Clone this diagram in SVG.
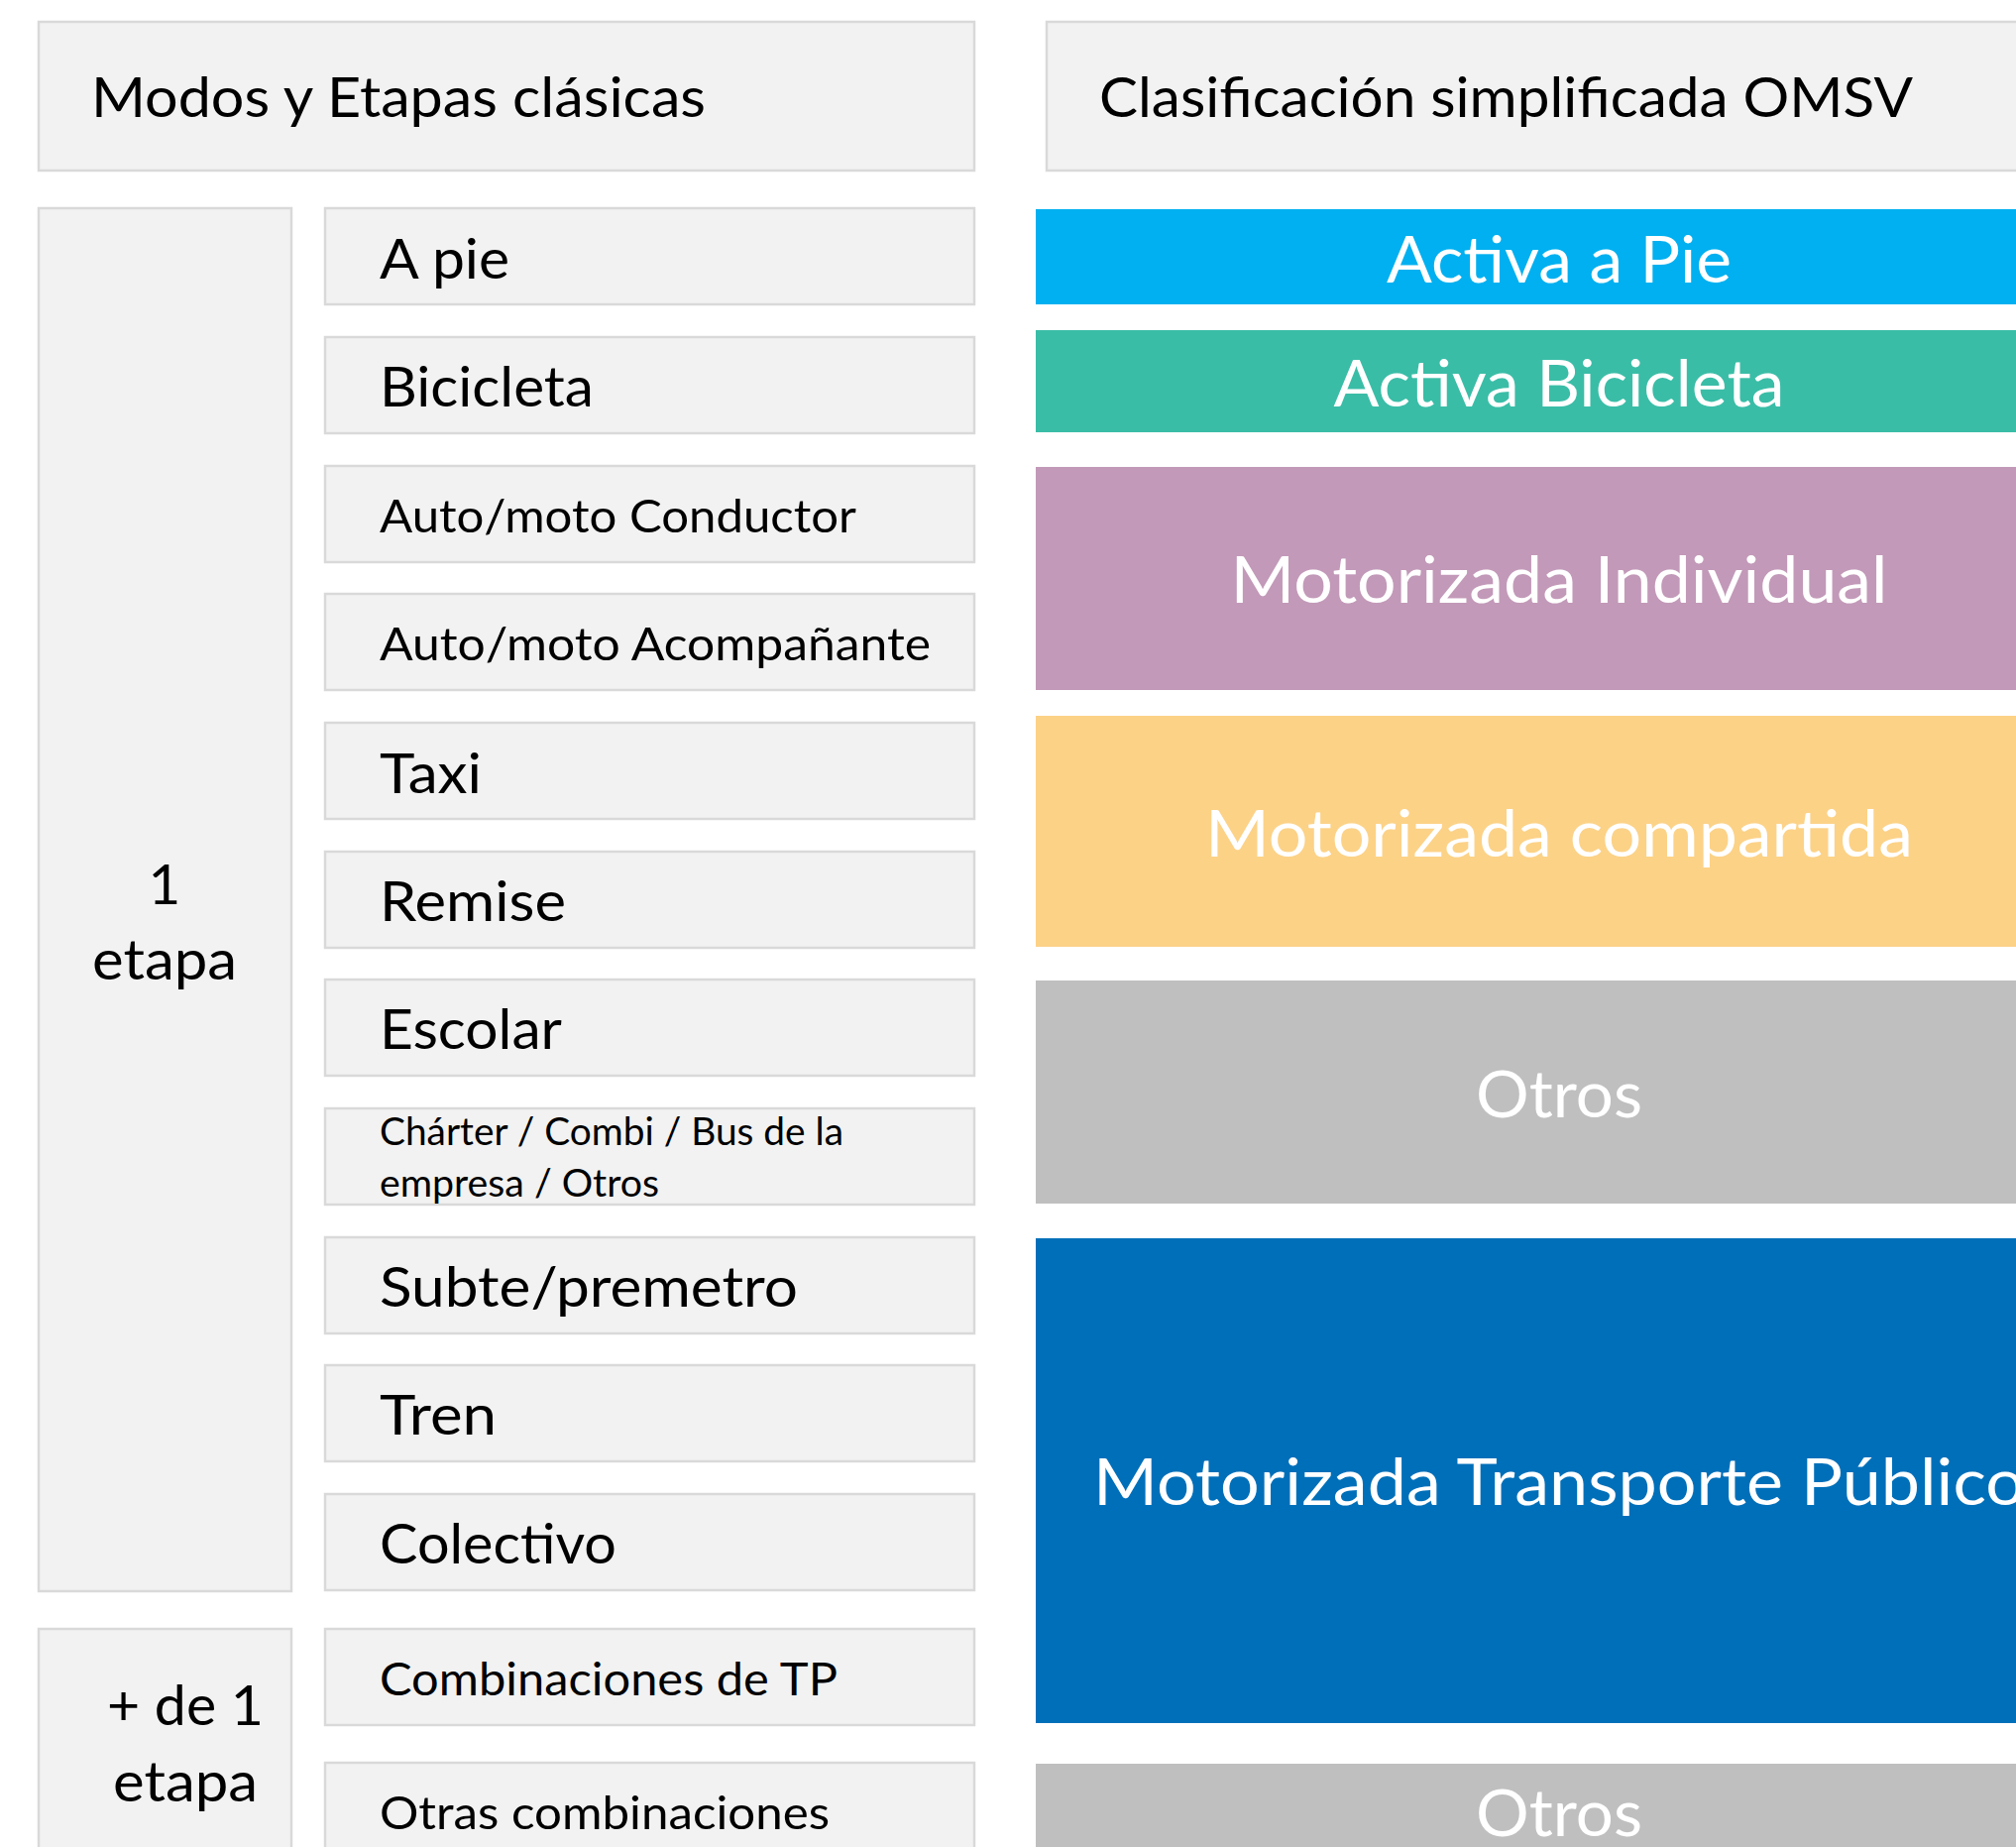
<svg xmlns="http://www.w3.org/2000/svg" width="2034" height="1863" viewBox="0 0 2034 1863">
<style>
.box{fill:#F2F2F2;stroke:#D9D9D9;stroke-width:2.5}
.t{font-family:Lato,"Open Sans","Liberation Sans",sans-serif;fill:#000000}
.w{font-family:Lato,"Open Sans","Liberation Sans",sans-serif;fill:#FFFFFF;text-anchor:middle;font-size:66px}
.c{text-anchor:middle}
.L{font-size:56.5px}
.M{font-size:47px}
.S{font-size:37.7px}
</style>
<rect width="2034" height="1863" fill="#FFFFFF"/>
<g id="header-modos">
<rect class="box" x="39" y="22" width="944" height="150"/>
<text class="t L" x="92" y="118" textLength="620" lengthAdjust="spacingAndGlyphs">Modos y Etapas clásicas</text>
</g>
<g id="header-omsv">
<rect class="box" x="1056" y="22" width="1050" height="150"/>
<text class="t L" x="1109" y="118" textLength="821" lengthAdjust="spacingAndGlyphs">Clasificación simplificada OMSV</text>
</g>
<g id="grupo-1-etapa">
<rect class="box" x="39" y="210" width="255" height="1395"/>
<text class="t L c" x="166" y="912">1</text>
<text class="t L c" x="166" y="988" textLength="146" lengthAdjust="spacingAndGlyphs">etapa</text>
</g>
<g id="grupo-mas-de-1-etapa">
<rect class="box" x="39" y="1643" width="255" height="240"/>
<text class="t L c" x="187" y="1740" textLength="158" lengthAdjust="spacingAndGlyphs">+ de 1</text>
<text class="t L c" x="187" y="1817" textLength="146" lengthAdjust="spacingAndGlyphs">etapa</text>
</g>
<g id="modo-a-pie">
<rect class="box" x="328" y="210" width="655" height="97"/>
<text class="t L" x="383" y="281" textLength="131" lengthAdjust="spacingAndGlyphs">A pie</text>
</g>
<g id="modo-bicicleta">
<rect class="box" x="328" y="340" width="655" height="97"/>
<text class="t L" x="383" y="410" textLength="216" lengthAdjust="spacingAndGlyphs">Bicicleta</text>
</g>
<g id="modo-auto-conductor">
<rect class="box" x="328" y="470" width="655" height="97"/>
<text class="t M" x="383" y="537" textLength="481" lengthAdjust="spacingAndGlyphs">Auto/moto Conductor</text>
</g>
<g id="modo-auto-acompanante">
<rect class="box" x="328" y="599" width="655" height="97"/>
<text class="t M" x="383" y="666" textLength="556" lengthAdjust="spacingAndGlyphs">Auto/moto Acompañante</text>
</g>
<g id="modo-taxi">
<rect class="box" x="328" y="729" width="655" height="97"/>
<text class="t L" x="383" y="800" textLength="103" lengthAdjust="spacingAndGlyphs">Taxi</text>
</g>
<g id="modo-remise">
<rect class="box" x="328" y="859" width="655" height="97"/>
<text class="t L" x="383" y="929" textLength="188" lengthAdjust="spacingAndGlyphs">Remise</text>
</g>
<g id="modo-escolar">
<rect class="box" x="328" y="988" width="655" height="97"/>
<text class="t L" x="383" y="1058" textLength="184" lengthAdjust="spacingAndGlyphs">Escolar</text>
</g>
<g id="modo-charter">
<rect class="box" x="328" y="1118" width="655" height="97"/>
<text class="t S" x="383" y="1155" textLength="468" lengthAdjust="spacingAndGlyphs">Chárter / Combi / Bus de la</text>
<text class="t S" x="383" y="1207" textLength="282" lengthAdjust="spacingAndGlyphs">empresa / Otros</text>
</g>
<g id="modo-subte">
<rect class="box" x="328" y="1248" width="655" height="97"/>
<text class="t L" x="383" y="1318" textLength="422" lengthAdjust="spacingAndGlyphs">Subte/premetro</text>
</g>
<g id="modo-tren">
<rect class="box" x="328" y="1377" width="655" height="97"/>
<text class="t L" x="383" y="1447" textLength="118" lengthAdjust="spacingAndGlyphs">Tren</text>
</g>
<g id="modo-colectivo">
<rect class="box" x="328" y="1507" width="655" height="97"/>
<text class="t L" x="383" y="1577" textLength="239" lengthAdjust="spacingAndGlyphs">Colectivo</text>
</g>
<g id="modo-combinaciones-tp">
<rect class="box" x="328" y="1643" width="655" height="97"/>
<text class="t M" x="383" y="1710" textLength="462" lengthAdjust="spacingAndGlyphs">Combinaciones de TP</text>
</g>
<g id="modo-otras-combinaciones">
<rect class="box" x="328" y="1778" width="655" height="97"/>
<text class="t M" x="383" y="1845" textLength="454" lengthAdjust="spacingAndGlyphs">Otras combinaciones</text>
</g>
<g id="clase-activa-pie">
<rect x="1045" y="211" width="1056" height="96" fill="#00B0F0"/>
<text class="w" x="1573" y="285" textLength="348" lengthAdjust="spacingAndGlyphs">Activa a Pie</text>
</g>
<g id="clase-activa-bicicleta">
<rect x="1045" y="333" width="1056" height="103" fill="#3ABDA7"/>
<text class="w" x="1573" y="410" textLength="455" lengthAdjust="spacingAndGlyphs">Activa Bicicleta</text>
</g>
<g id="clase-motorizada-individual">
<rect x="1045" y="471" width="1056" height="225" fill="#C299B8"/>
<text class="w" x="1573" y="608" textLength="663" lengthAdjust="spacingAndGlyphs">Motorizada Individual</text>
</g>
<g id="clase-motorizada-compartida">
<rect x="1045" y="722" width="1056" height="233" fill="#FCD287"/>
<text class="w" x="1573" y="864" textLength="714" lengthAdjust="spacingAndGlyphs">Motorizada compartida</text>
</g>
<g id="clase-otros-1">
<rect x="1045" y="989" width="1056" height="225" fill="#BFBFBF"/>
<text class="w" x="1573" y="1127" textLength="168" lengthAdjust="spacingAndGlyphs">Otros</text>
</g>
<g id="clase-motorizada-tp">
<rect x="1045" y="1249" width="1056" height="489" fill="#006FB9"/>
<text class="w" x="1573" y="1518" textLength="940" lengthAdjust="spacingAndGlyphs">Motorizada Transporte Público</text>
</g>
<g id="clase-otros-2">
<rect x="1045" y="1779" width="1056" height="100" fill="#BFBFBF"/>
<text class="w" x="1573" y="1852" textLength="168" lengthAdjust="spacingAndGlyphs">Otros</text>
</g>
<g id="connectors"></g>
</svg>
